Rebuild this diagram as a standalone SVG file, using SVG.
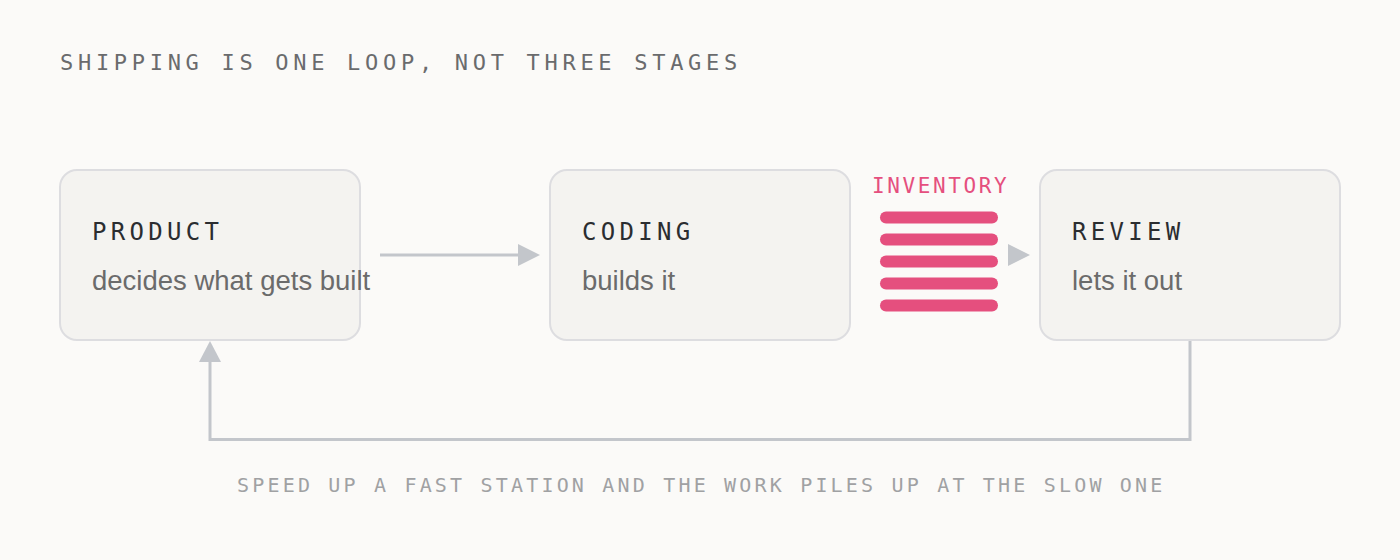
<svg xmlns="http://www.w3.org/2000/svg" width="1400" height="560" viewBox="0 0 1400 560">
  <defs>
    <style>
      .box { fill: #f4f3f0; stroke: #dddde0; stroke-width: 2; }
      .ttl { font-family: "DejaVu Sans Mono", "Liberation Mono", monospace; font-size: 24px; letter-spacing: 4.3px; fill: #2b2d30; }
      .sub { font-family: "Liberation Sans", Arial, sans-serif; font-size: 27.5px; fill: #6b6b6b; }
      .conn { fill: none; stroke: #c3c6cb; stroke-width: 3; }
      .head { fill: #c3c6cb; }
      .bar { stroke: #e54f7e; stroke-width: 12; stroke-linecap: round; }
    </style>
  </defs>
  <rect width="1400" height="560" fill="#fbfaf8"/>
  <text x="60" y="70" font-family="DejaVu Sans Mono, Liberation Mono, monospace" font-size="22" letter-spacing="4.7" fill="#6a6b6d">SHIPPING IS ONE LOOP, NOT THREE STAGES</text>

  <g id="connectors">
    <line class="conn" x1="380" y1="255" x2="520" y2="255"/>
    <polygon class="head" points="518,244 540,255 518,266"/>
    <polygon class="head" points="1008,244 1030,255 1008,266"/>
    <polyline class="conn" points="1190,340 1190,439.5 210,439.5 210,358"/>
    <polygon class="head" points="199,362 210,341 221,362"/>
  </g>

  <g id="product">
    <rect class="box" x="60" y="170" width="300" height="170" rx="17"/>
    <text class="ttl" x="92" y="240">PRODUCT</text>
    <text class="sub" x="92" y="290">decides what gets built</text>
  </g>

  <g id="coding">
    <rect class="box" x="550" y="170" width="300" height="170" rx="17"/>
    <text class="ttl" x="582" y="240">CODING</text>
    <text class="sub" x="582" y="290">builds it</text>
  </g>

  <g id="inventory">
    <text x="872" y="192.5" font-family="DejaVu Sans Mono, Liberation Mono, monospace" font-size="21" letter-spacing="2.6" fill="#e54f7e">INVENTORY</text>
    <line class="bar" x1="886" y1="217.5" x2="992" y2="217.5"/>
    <line class="bar" x1="886" y1="239.5" x2="992" y2="239.5"/>
    <line class="bar" x1="886" y1="261.5" x2="992" y2="261.5"/>
    <line class="bar" x1="886" y1="283.5" x2="992" y2="283.5"/>
    <line class="bar" x1="886" y1="305.5" x2="992" y2="305.5"/>
  </g>

  <g id="review">
    <rect class="box" x="1040" y="170" width="300" height="170" rx="17"/>
    <text class="ttl" x="1072" y="240">REVIEW</text>
    <text class="sub" x="1072" y="290">lets it out</text>
  </g>

  <text x="237" y="492" font-family="DejaVu Sans Mono, Liberation Mono, monospace" font-size="20" letter-spacing="3.18" fill="#a0a1a3">SPEED UP A FAST STATION AND THE WORK PILES UP AT THE SLOW ONE</text>
</svg>
